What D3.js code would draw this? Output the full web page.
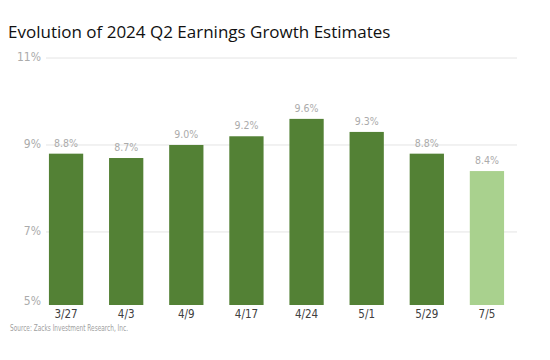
<!DOCTYPE html>
<html><head><meta charset="utf-8">
<script src="https://cdn.jsdelivr.net/npm/d3@7"></script>
<style>body{margin:0;background:#fff}svg{display:block}
.cond{font-family:'DejaVu Sans Condensed','DejaVu Sans',sans-serif;font-stretch:condensed}</style>
</head><body><div id="chart"></div>
<script>
const categories = ["3/27","4/3","4/9","4/17","4/24","5/1","5/29","7/5"];
const values = [8.8, 8.7, 9.0, 9.2, 9.6, 9.3, 8.8, 8.4];
const labels = ["8.8%","8.7%","9.0%","9.2%","9.6%","9.3%","8.8%","8.4%"];
const yTicks = [5, 7, 9, 11];
const yTickLabels = ["5%","7%","9%","11%"];
const highlight = ["7/5"];

const W = 550, H = 360;
const svg = d3.select("#chart").append("svg").attr("width", W).attr("height", H);

svg.append("text").attr("x", 8).attr("y", 38)
  .attr("font-family", "'Open Sans',sans-serif").attr("font-size", 17).attr("fill", "#111")
  .text("Evolution of 2024 Q2 Earnings Growth Estimates");

const x = d3.scaleBand().domain(categories).range([36, 517]).paddingInner(0.43).paddingOuter(0.215);
const y = d3.scaleLinear().domain([5.32, 11]).range([305, 58]).clamp(true);

svg.append("g").selectAll("line").data(yTicks.filter(t => t > 5)).join("line")
  .attr("x1", 46).attr("x2", 517).attr("y1", d => y(d)).attr("y2", d => y(d))
  .attr("stroke", "#e4e4e4").attr("stroke-width", 1);

svg.append("g").selectAll("text").data(yTicks).join("text").attr("class", "cond")
  .attr("x", 41).attr("y", d => d === 5 ? y(d) : y(d) + 3)
  .attr("text-anchor", "end").attr("font-size", 12).attr("fill", "#ababab")
  .text((d, i) => yTickLabels[i]);

svg.append("g").selectAll("rect").data(values).join("rect")
  .attr("x", (d, i) => x(categories[i])).attr("width", x.bandwidth())
  .attr("y", d => y(d)).attr("height", d => y(5) - y(d))
  .attr("fill", (d, i) => highlight.includes(categories[i]) ? "#a9d18e" : "#538135");

svg.append("g").selectAll("text").data(values).join("text").attr("class", "cond")
  .attr("x", (d, i) => x(categories[i]) + x.bandwidth() / 2).attr("y", d => y(d) - 7)
  .attr("text-anchor", "middle").attr("font-size", 10.5).attr("fill", "#ababab")
  .text((d, i) => labels[i]);

svg.append("g").selectAll("text").data(categories).join("text").attr("class", "cond")
  .attr("x", d => x(d) + x.bandwidth() / 2).attr("y", 318)
  .attr("text-anchor", "middle").attr("font-size", 11.5).attr("fill", "#404040")
  .text(d => d);

svg.append("text").attr("class", "cond").attr("x", 10).attr("y", 331)
  .attr("font-size", 8.5).attr("fill", "#a0a0a0")
  .attr("textLength", 118).attr("lengthAdjust", "spacingAndGlyphs")
  .text("Source: Zacks Investment Research, Inc.");
</script></body></html>
